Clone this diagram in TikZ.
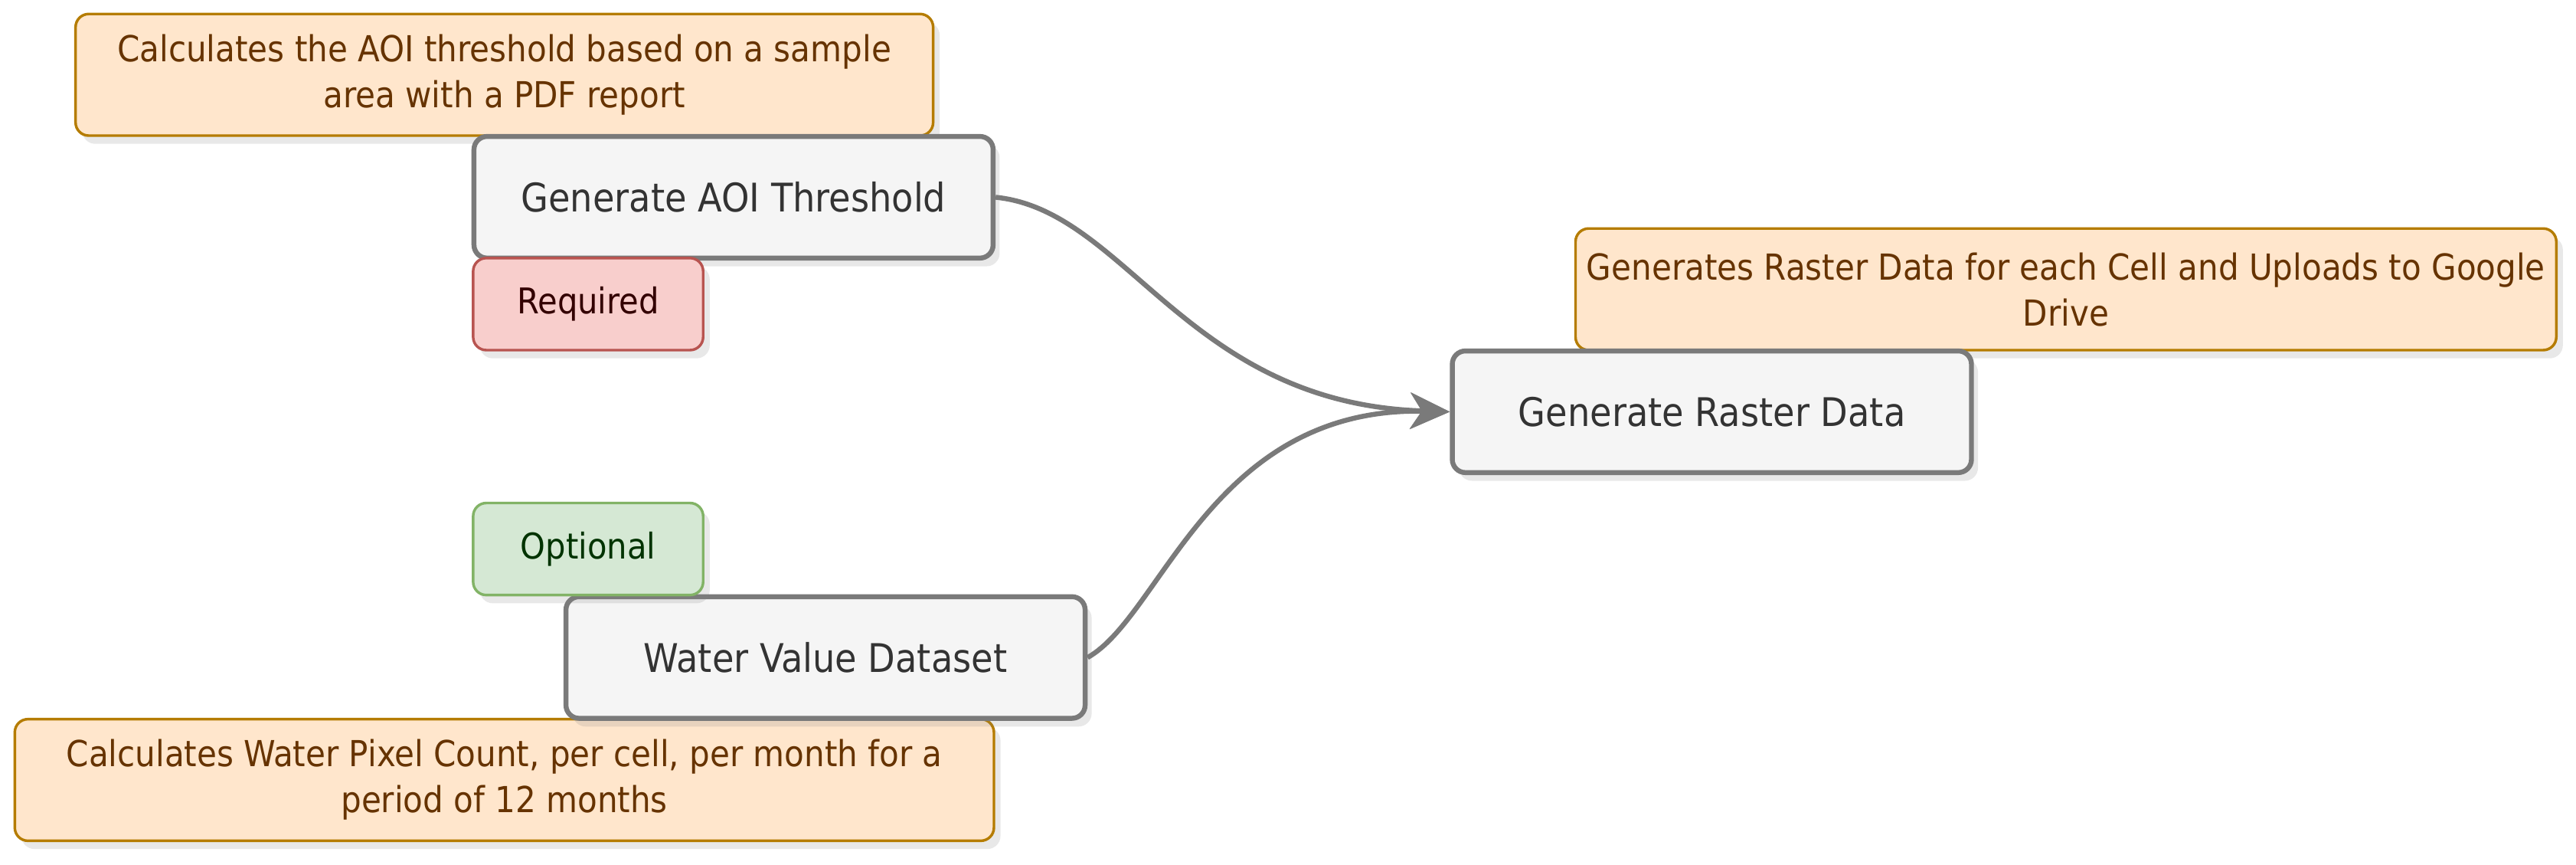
\documentclass[tikz,border=0pt]{standalone}
\usepackage{fontspec}
\setmainfont{DejaVu Sans Condensed}
\usetikzlibrary{arrows.meta,shadows}

\definecolor{boxfill}{HTML}{F5F5F5}
\definecolor{boxline}{HTML}{7A7A7A}
\definecolor{boxtext}{HTML}{333333}
\definecolor{notefill}{HTML}{FFE6CC}
\definecolor{noteline}{HTML}{B57C00}
\definecolor{notetext}{HTML}{663300}
\definecolor{reqfill}{HTML}{F8CECC}
\definecolor{reqline}{HTML}{B85450}
\definecolor{reqtext}{HTML}{330000}
\definecolor{optfill}{HTML}{D5E8D4}
\definecolor{optline}{HTML}{82B366}
\definecolor{opttext}{HTML}{003300}

\begin{document}
\begin{tikzpicture}[x=0.5pt,y=-0.5pt,
softshadow/.style={
drop shadow={opacity=0.18,shadow xshift=2pt,shadow yshift=-2.5pt}
},
process/.style={
rectangle,
rounded corners=4pt,
draw=boxline,
line width=1.5pt,
fill=boxfill,
text=boxtext,
font=\fontsize{12}{14}\selectfont,
minimum width=158pt,
minimum height=37pt,
softshadow
},
note/.style={
rectangle,
rounded corners=4pt,
draw=noteline,
line width=0.8pt,
fill=notefill,
text=notetext,
align=center,
font=\fontsize{10.9}{14}\selectfont,
minimum height=37pt,
softshadow
},
tag/.style={
rectangle,
rounded corners=4pt,
line width=0.8pt,
font=\fontsize{10.8}{12}\selectfont,
minimum width=70pt,
minimum height=28pt,
softshadow
},
link/.style={
draw=boxline,
line width=1.5pt,
-{Stealth[length=12pt,width=11pt,inset=3.5pt]}
}]
\useasboundingbox (0,0) rectangle (1568,526);

% descriptions
\node (aoinote) [note,minimum width=261pt] at (307,45.5)
{Calculates the AOI threshold based on a sample\\area with a PDF report};
\node (rasternote) [note,minimum width=298.5pt] at (1257.5,176)
{Generates Raster Data for each Cell and Uploads to Google\\Drive};
\node (waternote) [note,minimum width=298pt] at (307,474.5)
{Calculates Water Pixel Count, per cell, per month for a\\period of 12 months};

% steps
\node (aoi) [process] at (446.5,120) {Generate AOI Threshold};
\node (raster) [process] at (1042,250.5) {Generate Raster Data};
\node (water) [process] at (502.5,400) {Water Value Dataset};

% tags
\node (required) [tag,draw=reqline,fill=reqfill,text=reqtext] at (358,185) {Required};
\node (optional) [tag,draw=optline,fill=optfill,text=opttext] at (358,334) {Optional};

% links
\draw [link] (aoi.east) .. controls +(80,8) and +(-160,-5) .. (raster.west);
\draw [link] (water.east) .. controls +(45,-25) and +(-145,-3) .. (raster.west);
\end{tikzpicture}
\end{document}
